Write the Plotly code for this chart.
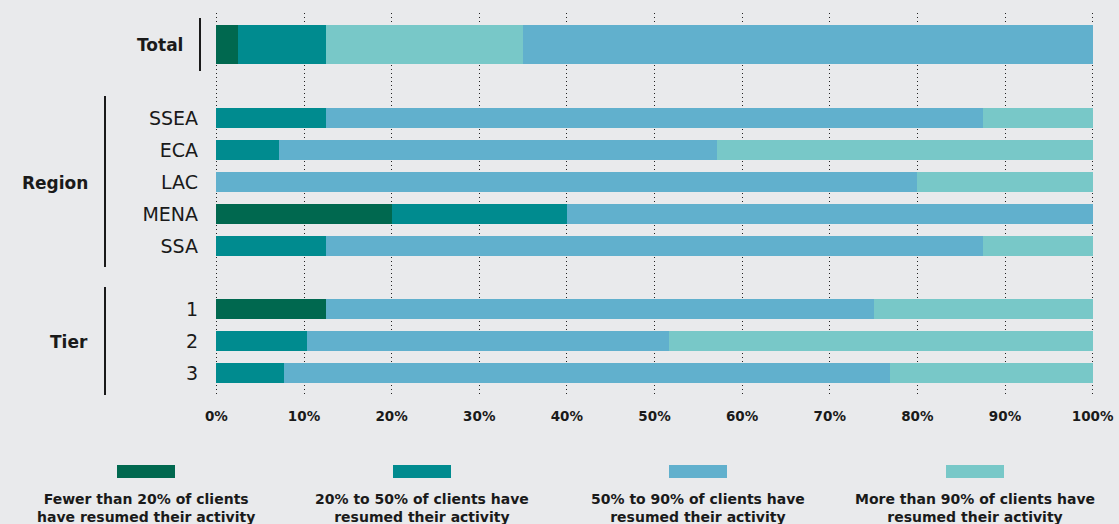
import plotly.graph_objects as go

# ---------------- data ----------------
rows = ["Total", "SSEA", "ECA", "LAC", "MENA", "SSA", "1", "2", "3"]
fewer_20 = [2.5, 0, 0, 0, 20, 0, 12.5, 0, 0]
from_20_to_50 = [10, 12.5, 7.1, 0, 20, 12.5, 0, 10.3, 7.7]
from_50_to_90 = [65, 75, 50, 80, 60, 75, 62.5, 41.4, 69.2]
more_90 = [22.5, 12.5, 42.9, 20, 0, 12.5, 25, 48.3, 23.1]
series_names = [
    "Fewer than 20% of clients<br>have resumed their activity",
    "20% to 50% of clients have<br>resumed their activity",
    "50% to 90% of clients have<br>resumed their activity",
    "More than 90% of clients have<br>resumed their activity",
]
x_ticks = [0, 10, 20, 30, 40, 50, 60, 70, 80, 90, 100]
x_tick_labels = [f"{v}%" for v in x_ticks]
groups = ["Total", "Region", "Tier"]

# ---------------- layout constants ----------------
W, H = 1119, 524
X0_PX, X100_PX = 216, 1093          # pixel position of 0% and 100%
PT, PB = 13, 395                    # plot area top / bottom in pixels
PAD = 0.5                           # range padding so end gridlines show
ppu = (X100_PX - X0_PX) / 100.0
PL = round(X0_PX - PAD * ppu)
PR = round(X100_PX + PAD * ppu)

row_pos = [44.5, 118, 150, 182, 214, 246, 309, 341, 373]  # pixel centres
row_width = [39, 20, 20, 20, 20, 20, 20, 20, 20]
light_first = {"Total"}  # rows where ">90%" segment precedes "50-90%"

C_DARK = "#00684f"
C_TEAL = "#008b8f"
C_BLUE = "#61b0cd"
C_LIGHT = "#78c8c8"
BG = "#e9eaec"
TXT = "#1a1a1a"
FONT = "DejaVu Sans"


def px_x(px):
    return (px - PL) / (PR - PL)


def px_y(py):
    return (PB - py) / (PB - PT)


def masked(vals, keep):
    return [v if keep(r) else 0 for v, r in zip(vals, rows)]


fig = go.Figure()


def add(vals, color, name):
    fig.add_trace(go.Bar(
        x=vals, y=row_pos, width=row_width, orientation="h",
        marker=dict(color=color, line=dict(width=0)),
        name=name, showlegend=False, hoverinfo="skip",
    ))


add(fewer_20, C_DARK, series_names[0])
add(from_20_to_50, C_TEAL, series_names[1])
add(masked(more_90, lambda r: r in light_first), C_LIGHT, series_names[3])
add(from_50_to_90, C_BLUE, series_names[2])
add(masked(more_90, lambda r: r not in light_first), C_LIGHT, series_names[3])

ticktext = ["" if r == "Total" else r for r in rows]

fig.update_layout(
    width=W, height=H,
    margin=dict(l=PL, r=W - PR, t=PT, b=H - PB, pad=0, autoexpand=False),
    paper_bgcolor=BG, plot_bgcolor=BG,
    barmode="stack", bargap=0,
    font=dict(family=FONT, color=TXT),
    showlegend=False,
    xaxis=dict(
        range=[-PAD, 100 + PAD], tickvals=x_ticks, ticktext=x_tick_labels,
        showgrid=True, gridcolor="#222222", gridwidth=1, griddash="1px,3px",
        zeroline=False, showline=False, ticks="", automargin=False,
        tickfont=dict(size=13.5, family=FONT, weight="bold", color=TXT),
        ticklabelstandoff=11, fixedrange=True,
    ),
    yaxis=dict(
        range=[PB, PT], tickvals=row_pos, ticktext=ticktext,
        showgrid=False, zeroline=False, showline=False, ticks="", automargin=False,
        tickfont=dict(size=19, family=FONT, color=TXT),
        ticklabelstandoff=X0_PX - PL + 9, fixedrange=True,
    ),
)

# group labels and separator lines
group_specs = [
    (groups[0], 185, 45, 200, 18, 71),
    (groups[1], 90, 183, 105, 96, 267),
    (groups[2], 90, 342, 105, 287, 395),
]
for label, tx, ty, lx, y0, y1 in group_specs:
    fig.add_annotation(
        text=f"<b>{label}</b>", xref="paper", yref="y",
        x=px_x(tx), y=ty, xanchor="right", yanchor="middle",
        showarrow=False, font=dict(size=17, family=FONT, color=TXT),
    )
    fig.add_shape(
        type="line", xref="paper", yref="y",
        x0=px_x(lx), x1=px_x(lx), y0=y0, y1=y1,
        line=dict(color=TXT, width=2),
    )

# manual legend: swatch above centred two-line label
legend_colors = [C_DARK, C_TEAL, C_BLUE, C_LIGHT]
legend_centres = [146, 422, 698, 975]
for name, col, cx in zip(series_names, legend_colors, legend_centres):
    fig.add_shape(
        type="rect", xref="paper", yref="paper",
        x0=px_x(cx - 29), x1=px_x(cx + 29),
        y0=px_y(478), y1=px_y(465),
        fillcolor=col, line=dict(width=0),
    )
    fig.add_annotation(
        text=name, xref="paper", yref="paper",
        x=px_x(cx), y=px_y(508), xanchor="center", yanchor="middle",
        showarrow=False, align="center",
        font=dict(size=14, family=FONT, weight="bold", color=TXT),
    )

fig.write_html("out.html", config={"displayModeBar": False, "staticPlot": True})
